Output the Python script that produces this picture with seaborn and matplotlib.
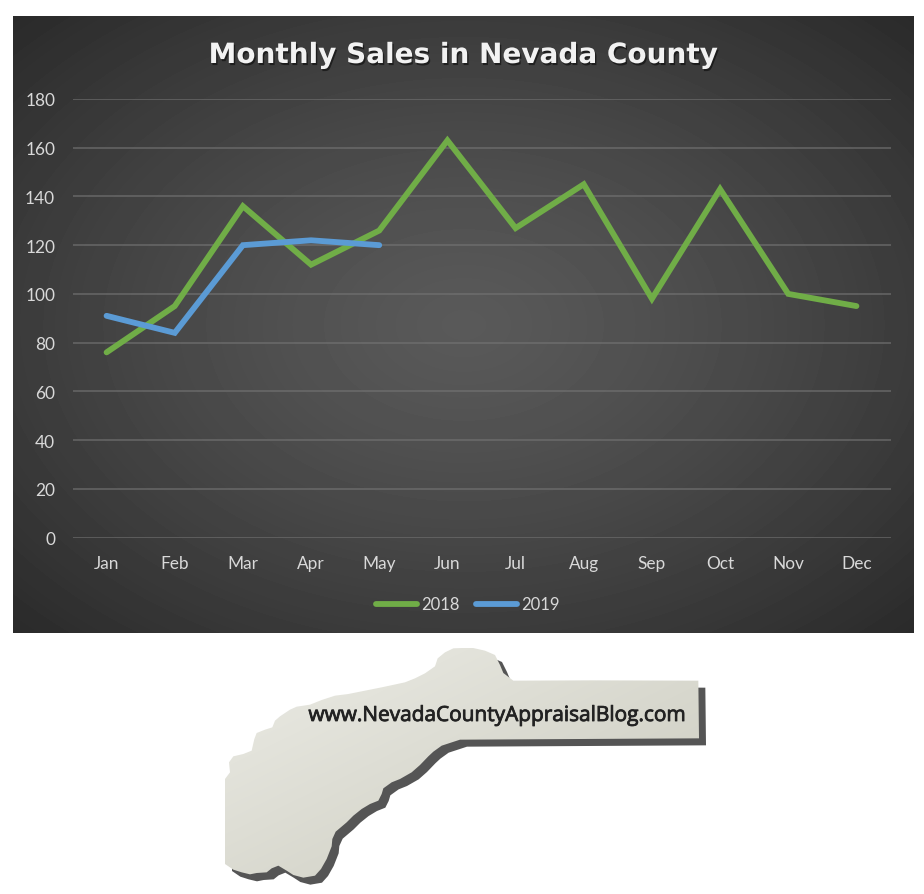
import numpy as np
import pandas as pd
import matplotlib
matplotlib.use("Agg")
import matplotlib.pyplot as plt
import matplotlib.patheffects as pe
from matplotlib.patches import Polygon
import seaborn as sns

months = ["Jan", "Feb", "Mar", "Apr", "May", "Jun", "Jul", "Aug", "Sep", "Oct", "Nov", "Dec"]
sales_2018 = [76, 95, 136, 112, 126, 163, 127, 145, 98, 143, 100, 95]
sales_2019 = [91, 84, 120, 122, 120]
y_ticks = [0, 20, 40, 60, 80, 100, 120, 140, 160, 180]

W, H = 924, 895
sns.set_theme(style="dark", rc={"axes.grid": False})
plt.rcParams["font.family"] = ["Lato", "DejaVu Sans"]

fig = plt.figure(figsize=(W / 100, H / 100), dpi=100, facecolor="white")

bg = fig.add_axes([0, 0, 1, 1], zorder=0)
bg.set_xlim(0, W)
bg.set_ylim(H, 0)
bg.axis("off")

# panel with radial gradient
px0, px1, py0, py1 = 13, 914, 17, 634
yy, xx = np.mgrid[py0:py1, px0:px1]
cx, cy = (px0 + px1) / 2, (py0 + py1) / 2
r = np.hypot((xx - cx) / ((px1 - px0) / 2), (yy - cy) / ((py1 - py0) / 2)) / np.sqrt(2)
grad = 0.35 - (0.35 - 0.165) * np.clip(r, 0, 1) ** 1.3
bg.imshow(grad, extent=(px0, px1, py1, py0), cmap="gray", vmin=0, vmax=1,
          aspect="auto", zorder=1, interpolation="bilinear")

# logo outline (decoration), traced in zoomed-crop coordinates
outline = np.array([
    (30, 420), (45, 400), (42, 370), (55, 352), (85, 345), (110, 335), (118, 300), (125, 282),
    (150, 272), (172, 265), (180, 245), (195, 232), (225, 212), (245, 203), (285, 197), (320, 183),
    (360, 170), (400, 165), (450, 155), (500, 145), (570, 130), (600, 118), (630, 103), (660, 82),
    (668, 58), (690, 40), (715, 28), (770, 26), (810, 35), (840, 48), (855, 78),
    (865, 102), (895, 125), (1130, 124), (1450, 125), (1452, 298), (735, 302), (680, 320), (655, 338), (640, 352),
    (615, 378), (590, 400), (555, 420), (530, 430), (505, 448), (500, 465), (490, 485), (465, 495), (440, 510),
    (415, 530), (395, 550), (362, 578), (352, 600), (350, 622), (335, 660), (318, 690), (300, 710), (265, 716),
    (235, 708), (215, 695), (190, 680), (170, 688), (155, 700), (125, 702), (105, 706), (80, 700), (55, 692), (30, 675),
], dtype=float) / 3 + (215, 640)

bg.add_patch(Polygon(outline + (7, 7), closed=True, fc="#555555", ec="none", zorder=2))
lx0, ly0 = outline.min(axis=0)
lx1, ly1 = outline.max(axis=0)
ly, lx = np.mgrid[ly0:ly1, lx0:lx1]
t = np.clip((lx - lx0) / (lx1 - lx0) * 0.5 + (ly - ly0) / (ly1 - ly0) * 0.5, 0, 1)[..., None]
light = np.array([0.925, 0.925, 0.90])
dark = np.array([0.79, 0.79, 0.74])
logo_img = bg.imshow(light * (1 - t) + dark * t, extent=(lx0, lx1, ly1, ly0),
                     aspect="auto", zorder=3)
clip = Polygon(outline, closed=True, transform=bg.transData, fc="none", ec="none")
bg.add_patch(clip)
logo_img.set_clip_path(clip)
bg.set_xlim(0, W)
bg.set_ylim(H, 0)
bg.text(497, 716.5, "www.NevadaCountyAppraisalBlog.com", ha="center", va="center",
        fontsize=15.0, color="#222222", zorder=4, family=["Open Sans", "DejaVu Sans"],
        path_effects=[pe.withStroke(linewidth=0.6, foreground="#222222")])

# chart axes
ax = fig.add_axes([72.5 / W, 1 - 538.5 / H, 818 / W, 438.5 / H], zorder=2)
ax.patch.set_alpha(0)

df = pd.DataFrame({
    "x": list(range(len(months))) + list(range(len(sales_2019))),
    "sales": sales_2018 + sales_2019,
    "year": ["2018"] * len(sales_2018) + ["2019"] * len(sales_2019),
})
palette = {"2018": "#70AD47", "2019": "#5B9BD5"}
sns.lineplot(data=df, x="x", y="sales", hue="year", palette=palette, linewidth=4.2, ax=ax,
             legend=False, errorbar=None, solid_capstyle="round", solid_joinstyle="miter", zorder=3)

ax.set_xlim(-0.5, 11.5)
ax.set_ylim(0, 180)
ax.set_xlabel("")
ax.set_ylabel("")
ax.set_xticks(range(len(months)), months)
ax.set_yticks(y_ticks)
ax.tick_params(axis="both", length=0, labelsize=12.4, labelcolor="#d9d9d9")
ax.tick_params(axis="x", pad=12.3)
ax.tick_params(axis="y", pad=12.5)
ax.yaxis.grid(True, color="#747474", lw=1.4, alpha=0.6)
ax.set_axisbelow(True)
for s in ax.spines.values():
    s.set_visible(False)

# title: a wide bold face stands in for the letter-spaced original
bg.text(463.5, 56, "Monthly Sales in Nevada County", ha="center", va="center", fontsize=20.1,
        fontweight="bold", color="#f2f2f2", zorder=5, family=["DejaVu Sans"],
        path_effects=[pe.withSimplePatchShadow(offset=(1, -1.5), shadow_rgbFace="black", alpha=0.5)])

# legend
for (a, b, c, lab, tx) in [(376, 417, "#70AD47", "2018", 421), (476, 517, "#5B9BD5", "2019", 521)]:
    bg.plot([a, b], [604.5, 604.5], color=c, lw=4.2, solid_capstyle="round", zorder=5)
    bg.text(tx, 605, lab, ha="left", va="center", fontsize=12.0, color="#d9d9d9", zorder=5)

fig.savefig("out.png", dpi=100)
